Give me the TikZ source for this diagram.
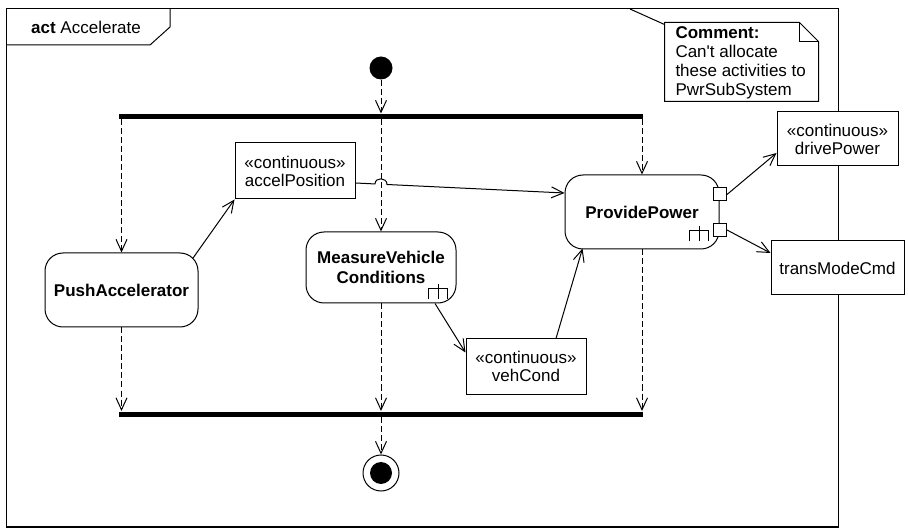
\documentclass[tikz,border=0pt]{standalone}
\usepackage{fontspec}
\setmainfont{Liberation Sans}
\usetikzlibrary{arrows.meta,calc}
\begin{document}
\begin{tikzpicture}[x=1pt,y=-1pt,line width=1pt,
  every node/.style={font=\fontsize{17}{18}\selectfont, inner sep=0pt},
  action/.style={draw, rounded corners=18pt, align=center, fill=white,
    font=\fontsize{17}{20.5}\selectfont\bfseries},
  obj/.style={draw, fill=white, align=center},
  barnode/.style={fill=black, minimum width=524pt, minimum height=5pt, inner sep=0pt},
  tip/.style={-{Straight Barb[length=12pt,width=11pt]}},
  ctrl/.style={tip, dash pattern=on 6pt off 3pt},
  port/.style={draw, fill=white, minimum size=13pt},
  rake/.pic={\draw (-9.5,11) -- (-9.5,0) -- (9.5,0) -- (9.5,11) (0,-4) -- (0,11);}
]
\useasboundingbox (0,0) rectangle (908,529);
\fill[white] (0,0) rectangle (908,529);

% frame
\draw (6,9) rectangle (838,527);
\draw[line width=2pt] (6,527) -- (838,527);
\draw (6,45) -- (150,45) -- (170,27) -- (170,9);
\node (title) at (86,27) {\textbf{act} Accelerate};

% comment
\node[minimum width=153pt, minimum height=78pt] (cmt) at (741.5,62) {};
\coordinate (cmtanchor) at (630,9);
\draw (cmtanchor) -- ($(cmt.north west)+(0,2)$);
\draw[fill=white] (cmt.north west) -- ($(cmt.north east)+(-19,0)$) -- ($(cmt.north east)+(0,19)$)
  -- (cmt.south east) -- (cmt.south west) -- cycle;
\draw ($(cmt.north east)+(-19,0)$) -- ++(0,19) -- ++(19,0);
\node[anchor=north west, align=left, font=\fontsize{17}{19}\selectfont] (cmttext) at (675,26)
  {\textbf{Comment:}\\Can\textquotesingle t allocate\\these activities to\\PwrSubSystem};

% nodes
\node[circle, fill=black, minimum size=23pt] (init) at (381,68) {};
\node[barnode] (fork) at (381,116.5) {};
\node[barnode] (join) at (381,414) {};
\node[action, minimum width=153pt, minimum height=74pt] (push) at (121.5,290) {PushAccelerator};
\node[action, minimum width=150pt, minimum height=71pt] (meas) at (381,267.5) {MeasureVehicle\\Conditions};
\node[action, minimum width=154pt, minimum height=74pt] (pp) at (642,212) {ProvidePower};
\node[obj, minimum width=120pt, minimum height=56pt] (accel) at (295,171) {«continuous»\\accelPosition};
\node[obj, minimum width=120pt, minimum height=55pt] (veh) at (526,366.5) {«continuous»\\vehCond};
\node[obj, minimum width=121pt, minimum height=54pt] (drive) at (837.5,139) {«continuous»\\drivePower};
\node[obj, minimum width=133pt, minimum height=54pt] (trans) at (837.5,268) {transModeCmd};
\node[circle, draw, fill=white, minimum size=36pt] (final) at (381,473) {};
\node[circle, fill=black, minimum size=22pt] (finalin) at (final.center) {};

% rakes and ports
\pic at ($(meas.south east)+(-18.5,-15)$) {rake};
\pic at ($(pp.south east)+(-20.5,-19)$) {rake};
\node[port] (p1) at ($(pp.east)+(0.5,-17.5)$) {};
\node[port] (p2) at ($(pp.east)+(0.5,18)$) {};

% control flows
\draw[ctrl] (init.south) -- (fork.north);
\draw[ctrl] (fork.south -| push.north) -- (push.north);
\draw[ctrl] (fork.south -| meas.north) -- (meas.north);
\draw[ctrl] (fork.south -| pp.north) -- (pp.north);
\draw[ctrl] (push.south) -- (push.south |- join.north);
\draw[ctrl] (meas.south) -- (meas.south |- join.north);
\draw[ctrl] (pp.south) -- (pp.south |- join.north);
\draw[ctrl] (join.south) -- (final.north);

% object flows
\draw[tip] ($(push.north east)+(-5.3,5.3)$) -- (accel.south west);
\coordinate (hopa) at (375,183.95);
\coordinate (hopb) at (387,184.5);
\draw[tip] ($(accel.east)+(0,12)$) -- (hopa) .. controls (375,177) and (387,177) .. (hopb)
  -- ($(pp.west)+(0,-19)$);
\draw[tip] ($(meas.south)+(54,0)$) -- ($(veh.north west)+(0,14)$);
\draw[tip] ($(veh.north)+(30,0)$) -- ($(pp.south west)+(18,-1)$);
\draw[tip] (p1.east) -- ($(drive.west)+(0,14)$);
\draw[tip] (p2.east) -- ($(trans.west)+(0,-15)$);
\end{tikzpicture}
\end{document}
